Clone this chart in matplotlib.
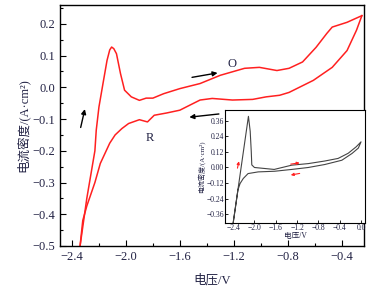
import matplotlib
matplotlib.use('Agg')
import matplotlib.pyplot as plt
from matplotlib.ticker import MultipleLocator, FixedLocator

plt.rcParams['font.family'] = ['Liberation Serif', 'Noto Sans CJK SC']
plt.rcParams['axes.unicode_minus'] = True

# main CV curve (forward scan, O branch)
fwd_v = [-2.34, -2.29, -2.23, -2.22, -2.20, -2.17, -2.14, -2.12, -2.106, -2.09, -2.07,
         -2.04, -2.01, -1.96, -1.90, -1.85, -1.80, -1.72, -1.60, -1.45, -1.30, -1.12,
         -1.01, -0.88, -0.79, -0.69, -0.59, -0.51, -0.47, -0.36, -0.25]
fwd_j = [-0.50, -0.35, -0.20, -0.135, -0.062, 0.012, 0.085, 0.118, 0.127, 0.122, 0.106,
         0.043, -0.009, -0.03, -0.041, -0.034, -0.034, -0.02, -0.004, 0.012, 0.038, 0.06,
         0.063, 0.053, 0.06, 0.08, 0.126, 0.17, 0.19, 0.205, 0.226]
# main CV curve (reverse scan, R branch)
rev_v = [-0.25, -0.29, -0.36, -0.47, -0.61, -0.79, -0.86, -0.96, -1.06, -1.21, -1.36,
         -1.45, -1.53, -1.60, -1.70, -1.79, -1.84, -1.90, -1.98, -2.03, -2.08, -2.12,
         -2.19, -2.23, -2.29, -2.32, -2.34]
rev_j = [0.226, 0.18, 0.116, 0.063, 0.022, -0.016, -0.025, -0.03, -0.038, -0.04, -0.035,
         -0.04, -0.057, -0.072, -0.081, -0.088, -0.109, -0.102, -0.114, -0.13, -0.15, -0.176,
         -0.24, -0.30, -0.374, -0.42, -0.50]

# inset full-range CV
ins_v = [-2.40, -2.113, -2.08, -2.06, -2.05, -2.0, -1.63, -1.30, -0.99, -0.68, -0.43,
         -0.24, -0.09, 0.0, -0.05, -0.17, -0.36, -0.68, -0.99, -1.30, -1.62, -1.93,
         -2.12, -2.21, -2.27, -2.31, -2.40]
ins_j = [-0.43, 0.395, 0.28, 0.124, 0.02, 0.0, -0.015, 0.018, 0.03, 0.05, 0.07,
         0.11, 0.16, 0.198, 0.15, 0.108, 0.056, 0.023, 0.0, -0.015, -0.029, -0.034,
         -0.047, -0.085, -0.124, -0.173, -0.43]

tick_color = '#222244'

fig = plt.figure(figsize=(3.74, 2.86), dpi=100)
ax = fig.add_axes([0.160, 0.140, 0.813, 0.843])
ax.plot(fwd_v, fwd_j, color='#ff2020', lw=1.1, solid_joinstyle='round')
ax.plot(rev_v, rev_j, color='#ff2020', lw=1.1, solid_joinstyle='round')
ax.set_xlim(-2.49, -0.235)
ax.set_ylim(-0.5, 0.26)
ax.xaxis.set_major_locator(FixedLocator([-2.4, -2.0, -1.6, -1.2, -0.8, -0.4]))
ax.xaxis.set_minor_locator(MultipleLocator(0.2))
ax.yaxis.set_major_locator(MultipleLocator(0.1))
ax.yaxis.set_minor_locator(MultipleLocator(0.05))
ax.tick_params(which='both', direction='in', labelsize=9, labelcolor=tick_color, width=0.8)
ax.tick_params(which='major', length=4)
ax.tick_params(which='minor', length=2)
ax.set_xticklabels(['\u22122.4', '\u22122.0', '\u22121.6', '\u22121.2', '\u22120.8', '\u22120.4'])
ax.set_xlabel('电压/V', fontsize=9, color=tick_color, labelpad=8)
ax.set_ylabel('电流密度/(A·cm²)', fontsize=9, color=tick_color, labelpad=2)
for s in ax.spines.values():
    s.set_linewidth(1.0)

arr = dict(arrowstyle='-|>', color='black', lw=1.0, mutation_scale=7)
ax.annotate('', xy=(-2.30, -0.06), xytext=(-2.34, -0.135), arrowprops=arr)
ax.annotate('', xy=(-1.30, 0.047), xytext=(-1.53, 0.03), arrowprops=arr)
ax.annotate('', xy=(-1.55, -0.095), xytext=(-1.29, -0.083), arrowprops=arr)
ax.text(-1.21, 0.075, 'O', fontsize=9, color=tick_color, ha='center', va='center')
ax.text(-1.82, -0.16, 'R', fontsize=9, color=tick_color, ha='center', va='center')

# inset
ins = fig.add_axes([0.602, 0.221, 0.374, 0.394])
ins.plot(ins_v, ins_j, color='#444444', lw=0.8, solid_joinstyle='round')
ins.set_xlim(-2.55, 0.075)
ins.set_ylim(-0.427, 0.443)
ins.tick_params(which='both', direction='in', labelsize=5.5, labelcolor=tick_color,
                length=2, width=0.6, pad=1)
ins.set_xticks([-2.4, -2.0, -1.6, -1.2, -0.8, -0.4, 0.0])
ins.set_xticklabels(['\u22122.4', '\u22122.0', '\u22121.6', '\u22121.2', '\u22120.8', '\u22120.4', '0.0'])
ins.set_yticks([-0.36, -0.24, -0.12, 0.0, 0.12, 0.24, 0.36])
ins.set_yticklabels(['\u22120.36', '\u22120.24', '\u22120.12', '0.00', '0.12', '0.24', '0.36'])
ins.set_xlabel('电压/V', fontsize=5.5, color=tick_color, labelpad=0)
ins.set_ylabel('电流密度/(A·cm²)', fontsize=5, color=tick_color, labelpad=1)
for s in ins.spines.values():
    s.set_linewidth(0.8)

rarr = dict(arrowstyle='-|>', color='#ff2020', lw=0.8, mutation_scale=4)
ins.annotate('', xy=(-2.28, 0.069), xytext=(-2.33, -0.026), arrowprops=rarr)
ins.annotate('', xy=(-1.10, 0.039), xytext=(-1.37, 0.023), arrowprops=rarr)
ins.annotate('', xy=(-1.37, -0.062), xytext=(-1.10, -0.042), arrowprops=rarr)

fig.savefig('out.png', dpi=100)
